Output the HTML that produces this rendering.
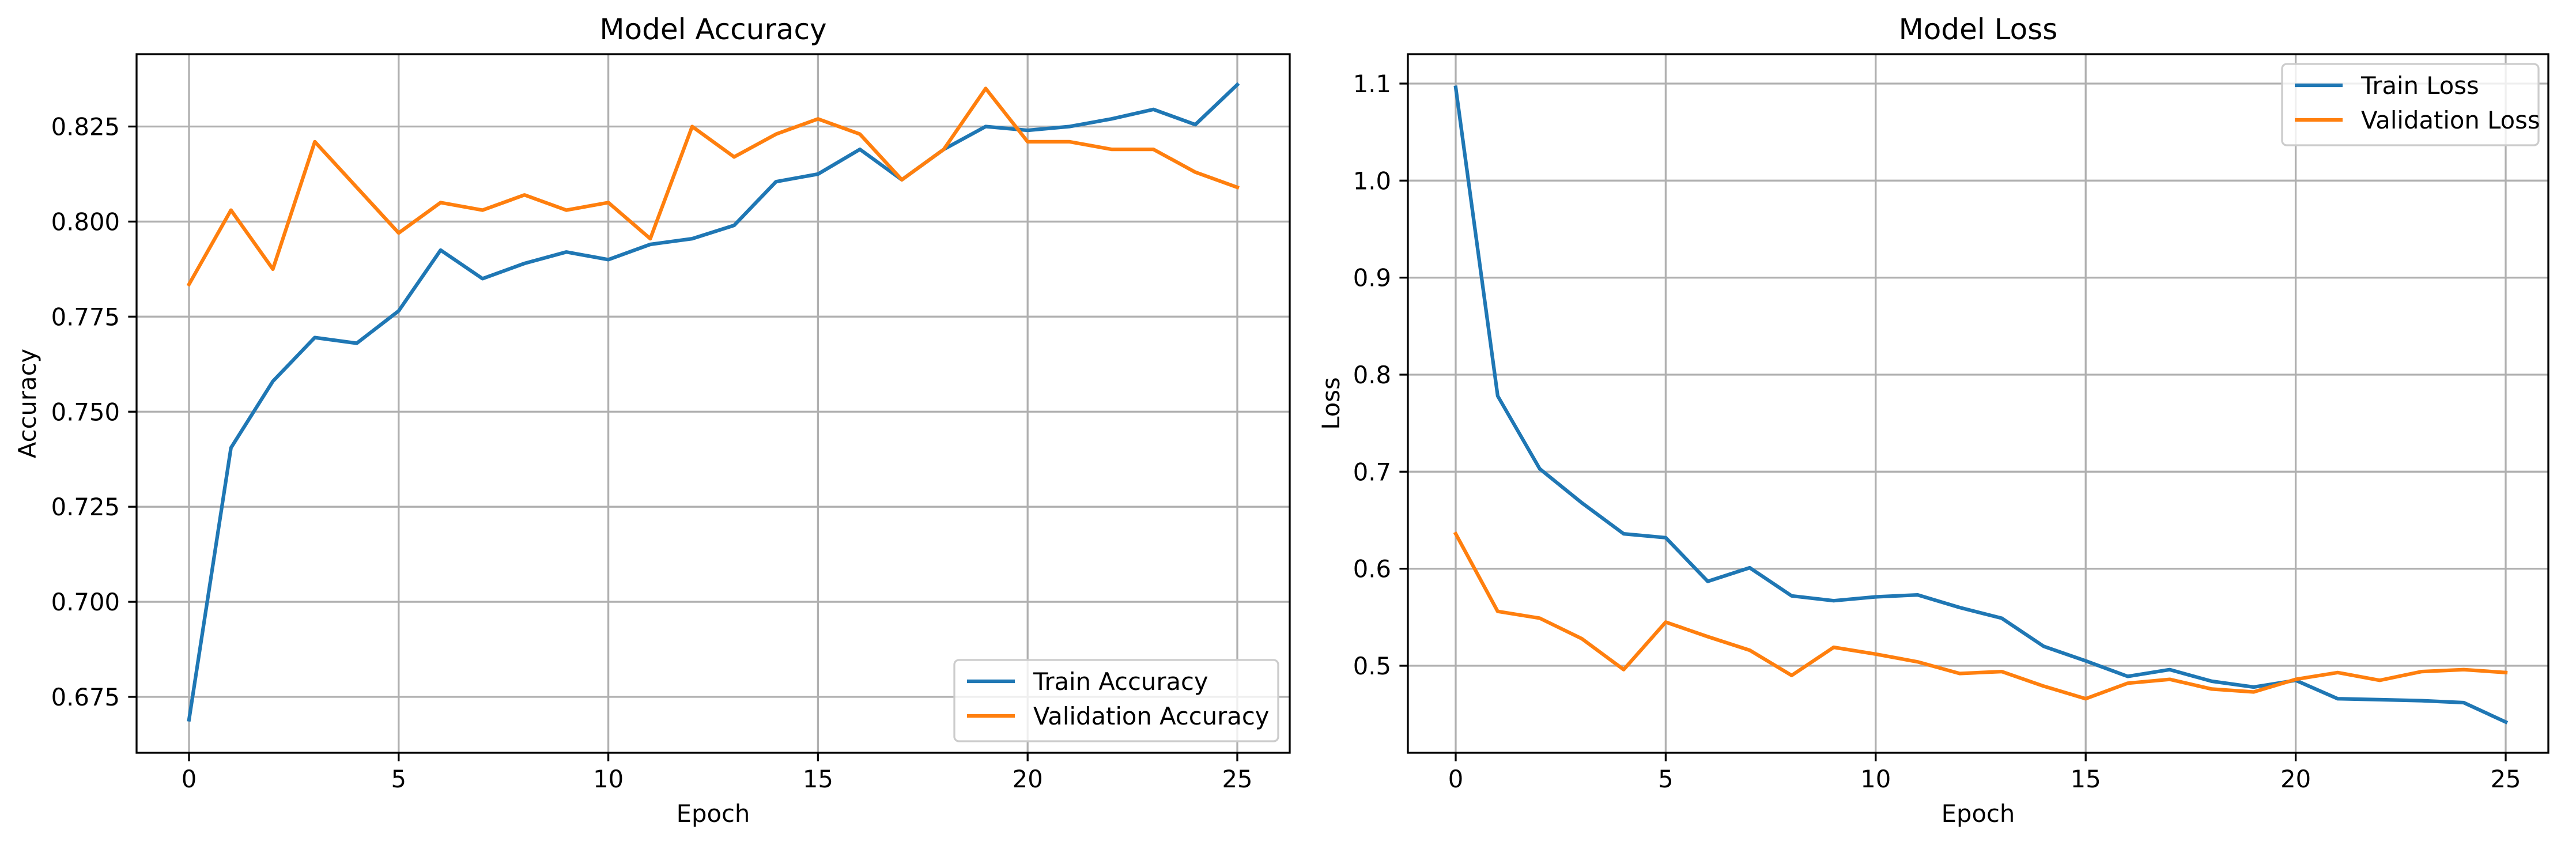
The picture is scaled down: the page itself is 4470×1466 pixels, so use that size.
<!DOCTYPE html>
<html><head><meta charset="utf-8"><style>
html,body{margin:0;padding:0;background:#fff}
svg{display:block;font-family:"DejaVu Sans","Liberation Sans",sans-serif}
</style></head><body>
<svg id="fig" width="4470" height="1466" viewBox="0 0 4470 1466" xmlns="http://www.w3.org/2000/svg">
<rect width="4470" height="1466" fill="#fff"/>
</svg>
<script>
const epochs = [0,1,2,3,4,5,6,7,8,9,10,11,12,13,14,15,16,17,18,19,20,21,22,23,24,25];
const trainAcc = [0.669,0.7405,0.758,0.7695,0.768,0.7765,0.7925,0.785,0.789,0.792,0.790,0.794,0.7955,0.799,0.8105,0.8125,0.819,0.811,0.819,0.825,0.824,0.825,0.827,0.8295,0.8255,0.836];
const valAcc = [0.7835,0.803,0.7875,0.821,0.809,0.797,0.805,0.803,0.807,0.803,0.805,0.7955,0.825,0.817,0.823,0.827,0.823,0.811,0.819,0.835,0.821,0.821,0.819,0.819,0.813,0.809];
const trainLoss = [1.096,0.778,0.703,0.668,0.636,0.632,0.587,0.601,0.572,0.567,0.571,0.573,0.560,0.549,0.520,0.505,0.489,0.496,0.484,0.478,0.485,0.466,0.465,0.464,0.462,0.442];
const valLoss = [0.636,0.556,0.549,0.528,0.496,0.545,0.530,0.516,0.490,0.519,0.512,0.504,0.492,0.494,0.479,0.466,0.482,0.486,0.476,0.473,0.486,0.493,0.485,0.494,0.496,0.493];
const xTicks = [0,5,10,15,20,25];
const accTicks = [0.675,0.700,0.725,0.750,0.775,0.800,0.825];
const lossTicks = [0.5,0.6,0.7,0.8,0.9,1.0,1.1];

const NS = "http://www.w3.org/2000/svg";
const fig = document.getElementById('fig');
function mk(tag, attrs, parent){const e=document.createElementNS(NS,tag);for(const k in attrs)e.setAttribute(k,attrs[k]);(parent||fig).appendChild(e);return e;}

function panel(cfg){
  const g = mk('g',{});
  
  
  const L=cfg.left,R=cfg.right,T=94,B=1306;
  const sx = v => cfg.x0 + (v-0)*(cfg.x25-cfg.x0)/25;
  const sy = v => cfg.yRef1px + (v-cfg.yRef1)*(cfg.yRef2px-cfg.yRef1px)/(cfg.yRef2-cfg.yRef1);
  xTicks.forEach(t=>{
    const l = mk('line',{x1:sx(t),x2:sx(t),y1:T,y2:B,stroke:'#b0b0b0','stroke-width':3.3},g);
    
    
  });
  cfg.yTicks.forEach(t=>{
    const l = mk('line',{x1:L,x2:R,y1:sy(t),y2:sy(t),stroke:'#b0b0b0','stroke-width':3.3},g);
    
    
  });
  cfg.series.forEach(s=>{
    const pts = epochs.map((e,i)=>sx(e).toFixed(1)+','+sy(s.data[i]).toFixed(1)).join(' ');
    const p = mk('polyline',{points:pts,fill:'none',stroke:s.color,'stroke-width':6.25,'stroke-linejoin':'round','stroke-linecap':'square'},g);
    
    
  });
  const frame = mk('rect',{x:L,y:T,width:R-L,height:B-T,fill:'none',stroke:'#000','stroke-width':3.3},g);
  
  
  xTicks.forEach(t=>{
    mk('line',{x1:sx(t),x2:sx(t),y1:B,y2:B+14.6,stroke:'#000','stroke-width':3.3},g);
    const tx = mk('text',{x:sx(t),y:B+60,'font-size':41.7,'text-anchor':'middle',fill:'#000'},g);
    tx.textContent = String(t);
    
    
  });
  cfg.yTicks.forEach(t=>{
    mk('line',{x1:L-14.6,x2:L,y1:sy(t),y2:sy(t),stroke:'#000','stroke-width':3.3},g);
    const tx = mk('text',{x:L-29,y:sy(t)+15,'font-size':41.7,'text-anchor':'end',fill:'#000'},g);
    tx.textContent = t.toFixed(cfg.dec);
    
    
  });
  const title = mk('text',{x:(L+R)/2,y:68,'font-size':50,'text-anchor':'middle',fill:'#000'},g);
  title.textContent = cfg.title;
  
  
  const xl = mk('text',{x:(L+R)/2,y:1426,'font-size':41.7,'text-anchor':'middle',fill:'#000'},g);
  xl.textContent = 'Epoch';
  
  
  const yl = mk('text',{x:0,y:0,'font-size':41.7,'text-anchor':'middle',fill:'#000',transform:`translate(${cfg.ylx},${(T+B)/2}) rotate(-90)`},g);
  yl.textContent = cfg.ylabel;
  
  
  const lg = mk('g',{},g);
  
  
  const lb = cfg.legend;
  mk('rect',{x:lb.x,y:lb.y,width:lb.w,height:lb.h,rx:8,fill:'#fff','fill-opacity':0.8,stroke:'#cccccc','stroke-width':3.3},lg);
  cfg.series.forEach((s,i)=>{
    const cy = lb.y+37+i*60;
    mk('line',{x1:lb.x+22,x2:lb.x+105,y1:cy,y2:cy,stroke:s.color,'stroke-width':6.25},lg);
    const t = mk('text',{x:lb.x+137,y:cy+15,'font-size':41.7,fill:'#000'},lg);
    t.textContent = s.label;
    
    
  });
}

panel({name:'accuracy-chart',left:237,right:2238,x0:328,x25:2147,
  yRef1:0.825,yRef1px:219.5,yRef2:0.675,yRef2px:1209,yTicks:accTicks,dec:3,
  title:'Model Accuracy',ylabel:'Accuracy',ylx:62,
  series:[{id:'train-accuracy-line',data:trainAcc,color:'#1f77b4',label:'Train Accuracy'},
          {id:'validation-accuracy-line',data:valAcc,color:'#ff7f0e',label:'Validation Accuracy'}],
  legend:{x:1656,y:1145,w:562,h:141}});
panel({name:'loss-chart',left:2443,right:4422,x0:2526,x25:4348,
  yRef1:1.1,yRef1px:145,yRef2:0.5,yRef2px:1155,yTicks:lossTicks,dec:1,
  title:'Model Loss',ylabel:'Loss',ylx:2324,
  series:[{id:'train-loss-line',data:trainLoss,color:'#1f77b4',label:'Train Loss'},
          {id:'validation-loss-line',data:valLoss,color:'#ff7f0e',label:'Validation Loss'}],
  legend:{x:3960,y:111,w:445,h:141}});
</script>
</body></html>
